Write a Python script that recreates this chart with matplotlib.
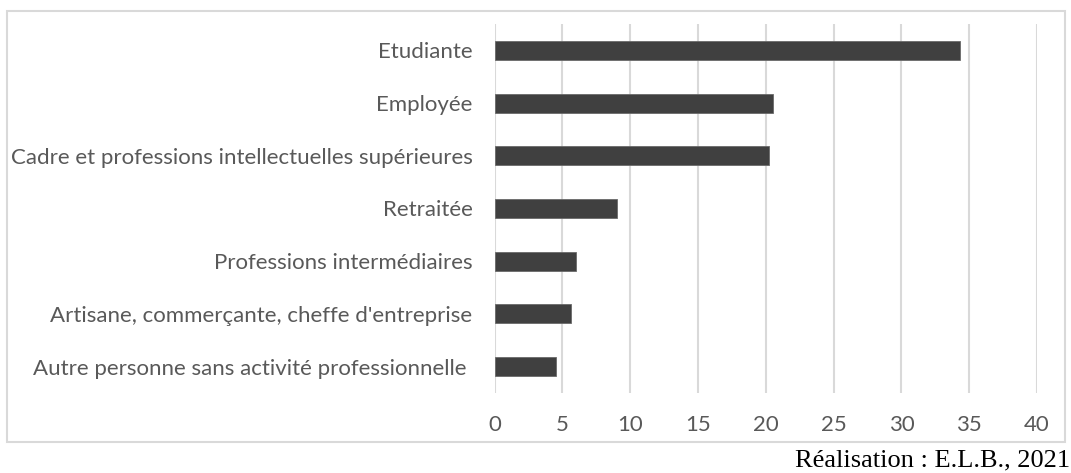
import matplotlib.pyplot as plt
from matplotlib.patches import Rectangle

categories = [
    "Etudiante",
    "Employée",
    "Cadre et professions intellectuelles supérieures",
    "Retraitée",
    "Professions intermédiaires",
    "Artisane, commerçante, cheffe d'entreprise",
    "Autre personne sans activité professionnelle ",
]
values = [34.3, 20.5, 20.2, 9.0, 6.0, 5.6, 4.5]
xticks = [0, 5, 10, 15, 20, 25, 30, 35, 40]

fig = plt.figure(figsize=(10.71, 4.73), dpi=100)
ax = fig.add_axes([0.4619, 0.1691, 0.5064, 0.7802])

ypos = list(range(len(categories)))
ax.barh(ypos, values, height=0.36, color="#404040", edgecolor="#6a6a6a", linewidth=0.6, zorder=3)
ax.set_ylim(len(categories) - 0.5, -0.5)
ax.set_xlim(0, 40)
ax.set_yticks(ypos)
ax.set_yticklabels(categories)
ax.set_xticks(xticks)
ax.set_xticklabels([str(t) for t in xticks])

ax.grid(axis="x", color="#d9d9d9", linewidth=1.5, zorder=0)
for s in ax.spines.values():
    s.set_visible(False)
ax.tick_params(axis="y", length=0, pad=16, labelsize=16, labelcolor="#595959")
ax.tick_params(axis="x", length=0, pad=16, labelsize=16, labelcolor="#595959")
for lab in ax.get_yticklabels() + ax.get_xticklabels():
    lab.set_family("Lato")

# chart border
fig.patches.append(Rectangle((0.00626, 0.0662), 0.9881, 0.9112, transform=fig.transFigure,
                             fill=False, edgecolor="#d9d9d9", linewidth=1.5))

fig.text(0.999, 0.0133, "Réalisation : E.L.B., 2021", ha="right", va="baseline",
         family="Liberation Serif", fontsize=19, color="black")

fig.savefig("out.png", dpi=100)
